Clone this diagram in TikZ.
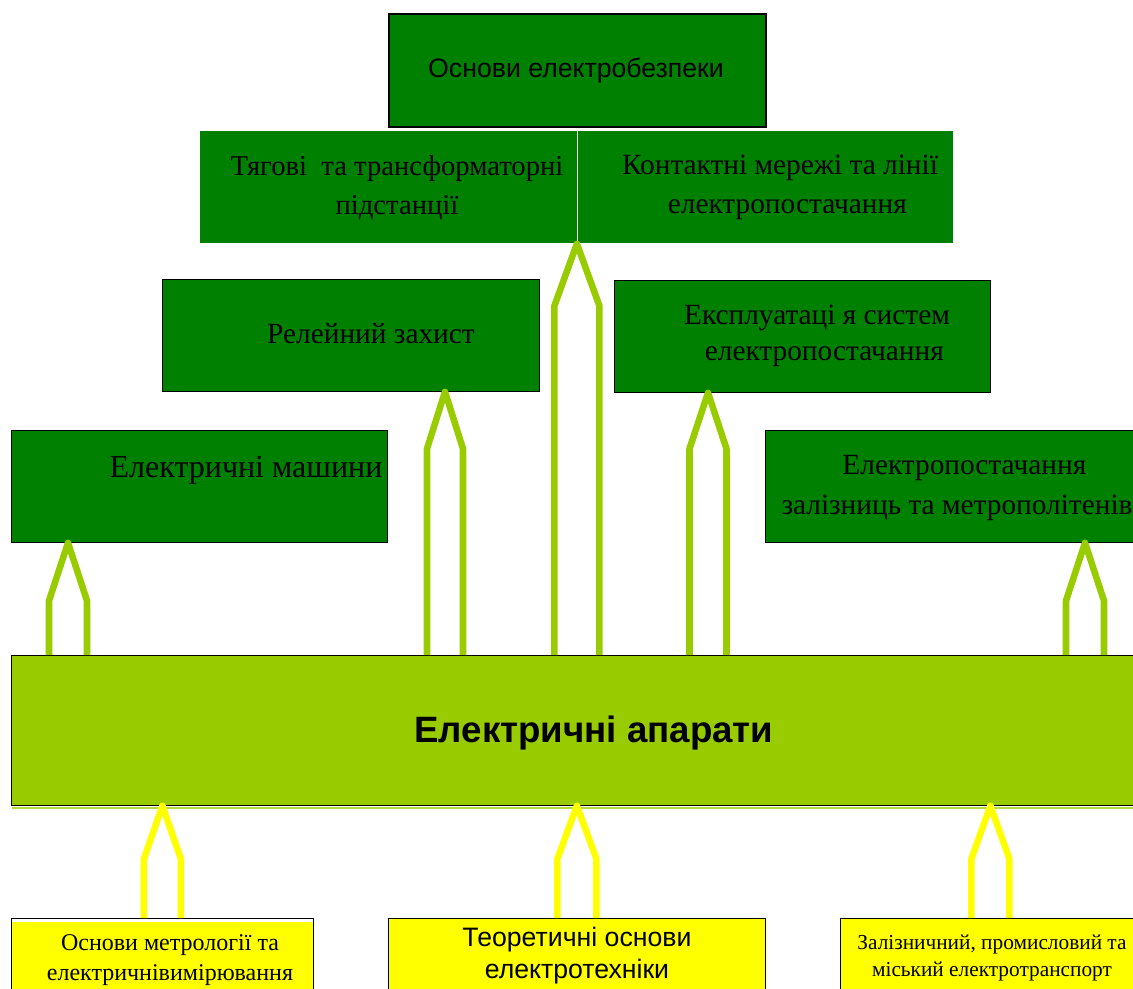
\documentclass[tikz,border=0pt]{standalone}
\usepackage{fontspec}
\setmainfont{Liberation Serif}
\setsansfont{Liberation Sans}
\usetikzlibrary{calc}
\definecolor{dgreen}{RGB}{0,128,0}
\definecolor{lgreen}{RGB}{153,204,0}
\definecolor{yel}{RGB}{255,255,0}
\newcommand\hollowup[5]{%
  \draw[#1] ($(#3 |- #2)+(-#4,0)$) -- ($(#3)+(-#4,#5)$) -- (#3) -- ($(#3)+(#4,#5)$) -- ($(#3 |- #2)+(#4,0)$);}
\begin{document}
\begin{tikzpicture}[x=0.75pt,y=-0.75pt,
  gbox/.style={rectangle, anchor=north west, inner sep=0pt, fill=dgreen, draw=black, line width=0.6pt, minimum height=112*0.75pt},
  ybox/.style={rectangle, anchor=north west, inner sep=0pt, fill=yel, draw=black, line width=0.6pt, minimum height=80*0.75pt},
  serif/.style={font=\fontsize{21.5}{29.25}\selectfont\rmfamily, align=center, inner sep=0pt, text=black},
  garrow/.style={draw=lgreen, line width=4.9pt, line join=round},
  yarrow/.style={draw=yel, line width=4.9pt, line join=round}]
\useasboundingbox (0,0) rectangle (1133,989);

% boxes
\node[gbox, line width=1.5pt, minimum width=377*0.75pt, minimum height=113*0.75pt] (top) at (388,13) {};
\node[gbox, draw=none, minimum width=753*0.75pt] (row2) at (200,131) {};
\draw[white, line width=0.6pt] (row2.north) -- (row2.south);
\node[gbox, minimum width=377*0.75pt] (relay) at (162,279) {};
\node[gbox, minimum width=376*0.75pt] (expl) at (614,280) {};
\node[gbox, minimum width=376*0.75pt] (mash) at (11,430) {};
\node[gbox, minimum width=380*0.75pt] (rail) at (765,430) {};
\node[ybox, minimum width=302*0.75pt] (metr) at (11,918) {};
\node[ybox, minimum width=377*0.75pt] (teor) at (388,918) {};
\node[ybox, minimum width=300*0.75pt] (trans) at (840,918) {};
\draw[white, line width=2.2pt] ($(metr.north west)+(1,2.5)$) -- ($(metr.north east)+(-1,2.5)$);

% tips
\coordinate (t1) at ($(mash.south west)+(57,0)$);
\coordinate (t2) at ($(relay.south west)+(283,0)$);
\coordinate (t3) at (row2.south);
\coordinate (t4) at ($(expl.south west)+(94,0)$);
\coordinate (t5) at ($(rail.south west)+(320,0)$);

% bar
\node[rectangle, anchor=north west, inner sep=0pt, fill=lgreen, draw=black, line width=0.6pt,
  minimum width=1130*0.75pt, minimum height=150*0.75pt] (bar) at (11,655) {};
\draw[lgreen!75, line width=1.5pt] ($(bar.south west)+(1,2.2)$) -- ($(bar.south east)+(0,2.2)$);

% green arrows
\hollowup{garrow}{bar.north}{t1}{19}{58}
\hollowup{garrow}{bar.north}{t2}{18}{57}
\hollowup{garrow}{bar.north}{t3}{22.5}{62}
\hollowup{garrow}{bar.north}{t4}{18.5}{56}
\hollowup{garrow}{bar.north}{t5}{19}{58}

% yellow arrows
\coordinate (y1) at (metr.north |- bar.south);
\coordinate (y2) at (teor.north |- bar.south);
\coordinate (y3) at (trans.north |- bar.south);
\hollowup{yarrow}{metr.north}{y1}{18.5}{53}
\hollowup{yarrow}{teor.north}{y2}{19.5}{53}
\hollowup{yarrow}{trans.north}{y3}{19}{53}

% texts
\node[font=\fontsize{20}{24}\selectfont\sffamily, inner sep=0pt] (ttop) at (576,70) {Основи електробезпеки};
\node[serif] (trow2l) at (397,187.5) {Тягові \ та трансформаторні\\підстанції};
\node[serif, font=\fontsize{22}{29.25}\selectfont\rmfamily] (trow2r) at (780,187.5) {Контактні мережі та лінії\\\ \ електропостачання};
\node[serif, font=\fontsize{22}{29}\selectfont\rmfamily] (trelay) at (371,334) {Релейний захист};
\node[serif, font=\fontsize{22}{27}\selectfont\rmfamily] (texpl) at (817,336) {Експлуатаці я систем\\\ \ електропостачання};
\node[serif, font=\fontsize{24}{29}\selectfont\rmfamily] (tmash) at (246,470) {Електричні машини};
\node[serif, font=\fontsize{22}{30}\selectfont\rmfamily] (trail) at (957,488) {\ \ Електропостачання\\залізниць та метрополітенів};
\node[font=\fontsize{27.5}{32}\selectfont\sffamily\bfseries, inner sep=0pt] (tbar) at (594,733) {Електричні апарати};
\node[serif, font=\fontsize{18}{22.5}\selectfont\rmfamily] (tmetr) at (170,960) {Основи метрології та\\електричнівимірювання};
\node[font=\fontsize{20}{24}\selectfont\sffamily, align=center, inner sep=0pt] (tteor) at (577,956) {Теоретичні основи\\електротехніки};
\node[serif, font=\fontsize{16}{20.25}\selectfont\rmfamily] (ttrans) at (992,957.5) {Залізничний, промисловий та\\міський електротранспорт};
\end{tikzpicture}
\end{document}
